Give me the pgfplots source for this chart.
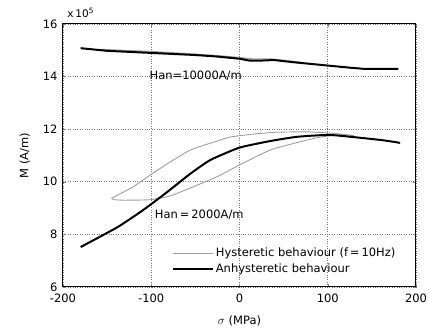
\documentclass[border=0pt]{standalone}
\usepackage{pgfplots}
\pgfplotsset{compat=1.18}
\usepackage{fontspec}
\setmainfont{DejaVu Sans}
\definecolor{hyst}{gray}{0.62}
\begin{document}
\begin{tikzpicture}[x=1pt,y=1pt]
\begin{axis}[
  at={(0,0)}, anchor=south west,
  scale only axis, width=353pt, height=263pt,
  xmin=-200, xmax=200, ymin=6, ymax=16,
  xtick={-200,-100,0,100,200}, ytick={6,8,10,12,14,16},
  /pgf/number format/assume math mode=true,
  tick label style={font=\fontsize{11.5}{13}\selectfont},
  xticklabel style={yshift=-3pt},
  yticklabel style={xshift=-2pt},
  grid=major, grid style={dotted, black!55, line width=0.6pt},
  tick align=inside, major tick length=3pt,
  axis line style={line width=1pt},
  xlabel={$\sigma$ (MPa)}, ylabel={M (A/m)},
  label style={font=\fontsize{11.5}{13}\selectfont},
  xlabel style={yshift=-7pt},
  ylabel style={yshift=6pt},
  legend style={draw=none, fill=none, at={(rel axis cs:0.305,0.16)}, anchor=north west,
    font=\fontsize{11.5}{13}\selectfont, row sep=1.5pt, inner sep=1pt},
  legend cell align=left,
  legend image code/.code={\draw[#1] (0pt,0pt) -- (40pt,0pt);},
  clip=false,
]
\addlegendimage{hyst, line width=0.9pt}
\addlegendentry{Hysteretic behaviour (f\,=\,10Hz)}
\addlegendimage{black, line width=2pt}
\addlegendentry{Anhysteretic behaviour}

% Han = 10000 hysteretic
\addplot[hyst, line width=1.4pt, forget plot] coordinates {
(-158,15.03) (-100,14.95) (-50,14.85) (-20,14.78) (0,14.72) (15,14.67) (35,14.67) (55,14.60) (70,14.54)
};
% Han = 10000 anhysteretic
\addplot[black, line width=2pt, forget plot] coordinates {
(-180,15.08) (-150,14.98) (-100,14.90) (-50,14.82) (-28,14.77) (0,14.68) (11,14.61) (25,14.61) (39,14.63) (60,14.55) (100,14.42) (128,14.33) (143,14.29) (180,14.29)
};

% Han = 2000 hysteretic loop
\addplot[hyst, line width=0.9pt, forget plot, smooth, tension=0.35] coordinates {
(-145,9.37) (-135,9.55) (-121,9.80) (-101,10.26) (-82,10.68) (-58,11.17) (-45,11.34) (-25,11.55) (-11,11.70) (12,11.80) (40,11.88) (75,11.90) (103,11.85) (130,11.76)
(115,11.78) (91,11.70) (65,11.49) (35,11.21) (0,10.64) (-25,10.20) (-56,9.76) (-79,9.46) (-101,9.32) (-130,9.30) (-142,9.32) (-145,9.37)
};
% Han = 2000 anhysteretic
\addplot[black, line width=2pt, forget plot, smooth, tension=0.3] coordinates {
(-180,7.52) (-138,8.28) (-109,8.93) (-82,9.61) (-56,10.30) (-33,10.83) (0,11.30) (35,11.55) (65,11.71) (103,11.78) (160,11.59) (182,11.48)
};

\node[anchor=west, font=\fontsize{11.5}{13}\selectfont, inner sep=0pt] at (axis cs:-102,14.02) {Han=10000A/m};
\node[anchor=west, font=\fontsize{11.5}{13}\selectfont, inner sep=0pt] at (axis cs:-96,8.74) {Han\,=\,2000A/m};
\node[anchor=south west, font=\fontsize{10.5}{12}\selectfont, inner sep=0pt] at (rel axis cs:0.012,1.022) {x\,10\textsuperscript{5}};
\end{axis}
\pgfresetboundingbox
\path (-63,-44) rectangle (366,287);
\end{tikzpicture}
\end{document}
